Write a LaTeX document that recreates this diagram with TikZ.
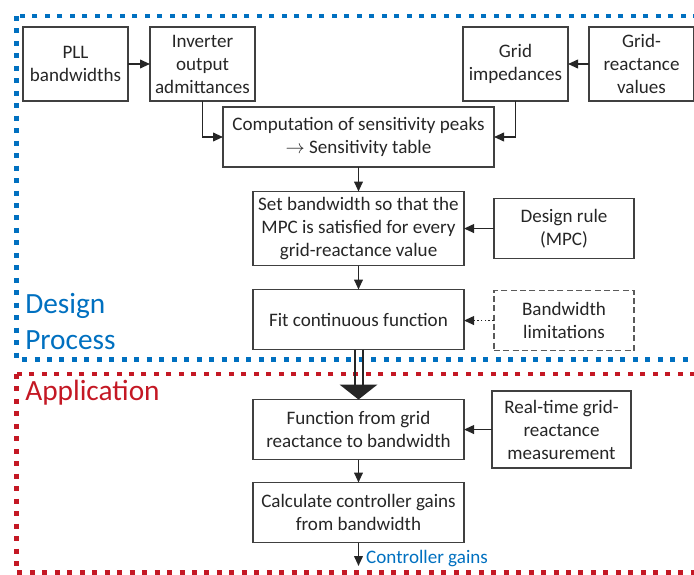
\documentclass[tikz,border=0pt]{standalone}
\usepackage{fontspec}
\setmainfont{Carlito}
\usepackage{tikz}
\usetikzlibrary{arrows.meta, positioning, calc}
\usepackage{xcolor}
\definecolor{procblue}{RGB}{0,112,192}
\definecolor{appred}{RGB}{196,24,36}
\definecolor{textgray}{RGB}{38,38,38}
\definecolor{linegray}{RGB}{64,64,64}
\definecolor{dashgray}{RGB}{90,90,90}
\tikzset{
  basebox/.style={rectangle,draw=linegray,line width=1.1pt,align=center,text=textgray,
    font=\fontsize{14.3}{17.25}\selectfont,inner xsep=2pt,inner ysep=0pt,outer sep=0pt},
  smallbox/.style={basebox,minimum width=78.75pt,minimum height=55.5pt},
  widebox/.style={basebox,minimum width=158.25pt,minimum height=45pt},
  sidebox/.style={basebox,minimum width=105pt,minimum height=45pt},
  limbox/.style={sidebox,draw=dashgray,dash pattern=on 4.5pt off 2.5pt},
  arr/.style={->,>={Triangle[length=7.5pt,width=6.5pt]},line width=1.3pt,color=textgray},
  dotarr/.style={arr,dash pattern=on 1.3pt off 1.6pt},
  bluedot/.style={draw=procblue,line width=3.4pt,dash pattern=on 3.75pt off 5.6pt},
  reddot/.style={draw=appred,line width=3.4pt,dash pattern=on 3.75pt off 5.6pt},
  bluetitle/.style={inner sep=0pt,text=procblue,font=\fontsize{22}{27}\selectfont},
  redtitle/.style={inner sep=0pt,text=appred,font=\fontsize{22}{27}\selectfont},
  outlabel/.style={inner sep=0pt,text=procblue,font=\fontsize{14.3}{17}\selectfont}
}

\begin{document}
\begin{tikzpicture}[x=0.75pt,y=-0.75pt]
  \clip (0,0) rectangle (694,575);

  %% FRAMES
  \draw[bluedot] (16.5,16) rectangle (712,359.5);
  \draw[reddot] (16.5,374) rectangle (712,572.5);

  %% DESIGN PROCESS
  \node[smallbox] (pll) at (75.5,64) {PLL\\bandwidths};
  \node[smallbox,right=16.5pt of pll] (inv) {Inverter\\output\\admittances};
  \node[smallbox] (grv) at (641.5,64) {Grid-\\reactance\\values};
  \node[smallbox,left=15.75pt of grv] (gimp) {Grid\\impedances};
  \node[basebox,minimum width=203.25pt,minimum height=45pt] (comp) at (358.5,137)
    {Computation of sensitivity peaks\\$\rightarrow$ Sensitivity table};
  \node[widebox,minimum height=55.5pt,below=18.4pt of comp] (setbw)
    {Set bandwidth so that the\\MPC is satisfied for every\\grid-reactance value};
  \node[sidebox,right=22.5pt of setbw] (rule) {Design rule\\(MPC)};
  \node[widebox,below=18pt of setbw] (fit) {Fit continuous function};
  \node[limbox,right=22.5pt of fit,yshift=-0.75pt] (bwlim) {Bandwidth\\limitations};

  %% APPLICATION
  \node[widebox,below=37.5pt of fit] (func) {Function from grid\\reactance to bandwidth};
  \node[sidebox,minimum width=104.25pt,minimum height=57.75pt,right=21pt of func] (rtm)
    {Real-time grid-\\reactance\\measurement};
  \node[widebox,below=17.25pt of func] (calc) {Calculate controller gains\\from bandwidth};
  \coordinate (cg) at ([yshift=-17.6pt]calc.south);

  %% TITLES
  \node[bluetitle,anchor=base west] (design) at (25,313) {Design};
  \node[bluetitle,anchor=base west] (process) at (25,349) {Process};
  \node[redtitle,anchor=base west] (appl) at (25,400.5) {Application};

  %% CONNECTIONS
  \draw[arr] (pll.east) -- (inv.west);
  \draw[arr] (grv.west) -- (gimp.east);
  \draw[arr] (inv.south) |- (comp.west);
  \draw[arr] (gimp.south) |- (comp.east);
  \draw[arr] (comp.south) -- (setbw.north);
  \draw[arr] (rule.west) -- (setbw.east);
  \draw[arr] (setbw.south) -- (fit.north);
  \draw[dotarr] (bwlim.west) -- (bwlim.west -| fit.east);
  \draw[line width=1.5pt,color=textgray] ([xshift=-3pt]fit.south) -- ([xshift=-3pt,yshift=11pt]func.north);
  \draw[line width=1.5pt,color=textgray] ([xshift=3pt]fit.south) -- ([xshift=3pt,yshift=11pt]func.north);
  \fill[textgray] ([xshift=-14.25pt,yshift=11.25pt]func.north) -- ([xshift=14.25pt,yshift=11.25pt]func.north)
    -- (func.north) -- cycle;
  \draw[arr] (rtm.west) -- (rtm.west -| func.east);
  \draw[arr] (func.south) -- (calc.north);
  \draw[arr] (calc.south) -- (cg);
  \node[outlabel,anchor=base west] (cgl) at ([xshift=5.6pt,yshift=2.25pt]cg) {Controller gains};
\end{tikzpicture}
\end{document}
